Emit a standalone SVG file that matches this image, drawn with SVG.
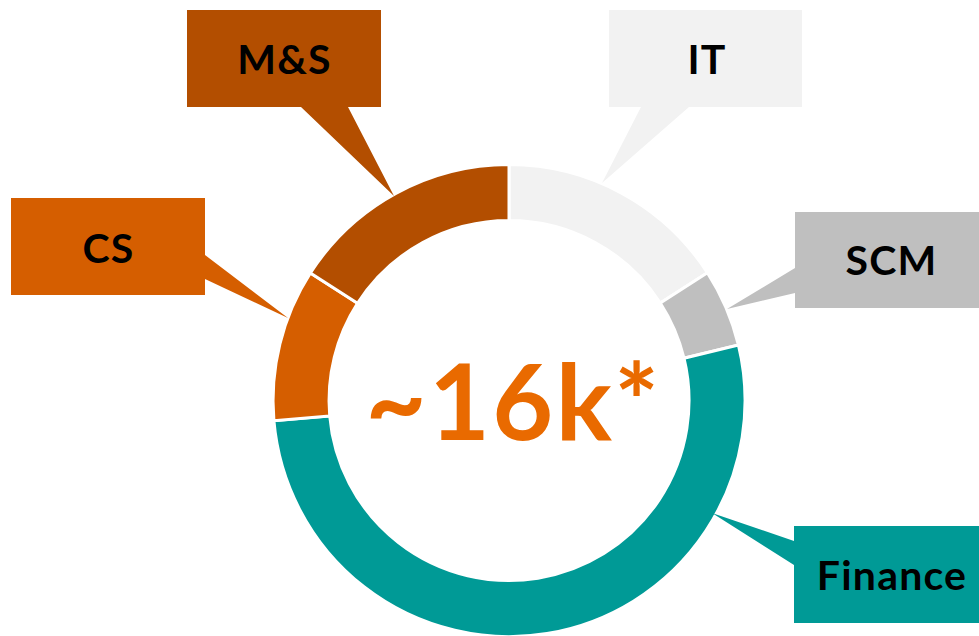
<svg xmlns="http://www.w3.org/2000/svg" width="979" height="636" viewBox="0 0 979 636">
<style>
.seg{stroke:#fff;stroke-width:3;stroke-linejoin:miter}
.lbl{font-family:Lato,"Open Sans","Liberation Sans",sans-serif;font-weight:bold;font-size:41px;letter-spacing:1.2px;fill:#000;text-anchor:middle}
.big{font-family:Lato,"Open Sans","Liberation Sans",sans-serif;font-weight:bold;font-size:105px;letter-spacing:2.5px;fill:#E96A00;text-anchor:middle}
.ms{fill:#B34E00}.cs{fill:#D55E00}.it{fill:#F2F2F2}.scm{fill:#BFBFBF}.fin{fill:#009A96}
</style>
<rect width="979" height="636" fill="#fff"/>
<g id="ring">
<path id="seg-it" class="seg it" d="M509,164.5 A236,236 0 0 1 707.4,272.7 L660.3,303.0 A180,180 0 0 0 509,220.5 Z"/>
<path id="seg-scm" class="seg scm" d="M707.4,272.7 A236,236 0 0 1 738.4,345.0 L684.0,358.2 A180,180 0 0 0 660.3,303.0 Z"/>
<path id="seg-fin" class="seg fin" d="M738.4,345.0 A236,236 0 1 1 273.9,420.7 L329.7,415.9 A180,180 0 1 0 684.0,358.2 Z"/>
<path id="seg-cs" class="seg cs" d="M273.9,420.7 A236,236 0 0 1 310.4,273.0 L357.5,303.3 A180,180 0 0 0 329.7,415.9 Z"/>
<path id="seg-ms" class="seg ms" d="M310.4,273.0 A236,236 0 0 1 509,164.5 L509,220.5 A180,180 0 0 0 357.5,303.3 Z"/>
</g>
<g id="node-ms">
<polygon class="ms" points="187,10 381,10 381,107 348,107 394,196 301,107 187,107"/>
<text class="lbl" x="284.5" y="74">M&amp;S</text>
</g>
<g id="node-cs">
<polygon class="cs" points="11,198 205,198 205,255 288,318 205,279 205,295 11,295"/>
<text class="lbl" x="108.5" y="262.5">CS</text>
</g>
<g id="node-it">
<polygon class="it" points="609,10 802,10 802,107 689,107 602,183 641,107 609,107"/>
<text class="lbl" x="707" y="73.5">IT</text>
</g>
<g id="node-scm">
<polygon class="scm" points="795,212 990,212 990,308 795,308 795,293 727,309 795,268"/>
<text class="lbl" x="891.5" y="275">SCM</text>
</g>
<g id="node-fin">
<polygon class="fin" points="794,526 990,526 990,623 794,623 794,565 712,513 794,541"/>
<text class="lbl" x="892" y="590">Finance</text>
</g>
<g id="center">
<text class="big" x="513.5" y="440">~16k*</text>
</g>
</svg>
